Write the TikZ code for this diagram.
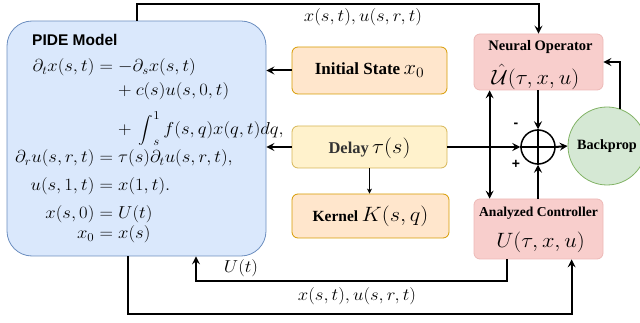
\documentclass[tikz,border=0pt]{standalone}
\usepackage{amsmath}
\usepackage{graphicx}
\usepackage{fontspec}
\usetikzlibrary{arrows.meta,calc}
\newfontfamily\labelserif{Liberation Serif}
\newfontfamily\labelsans{Liberation Sans}

% slightly widened math, as typeset by the web renderer
\newcommand{\widemath}[1]{\scalebox{1.08}[1]{#1}}
% a display integral of reduced size, centred on the math axis
\newcommand{\reducedint}{\mathop{\vcenter{\hbox{\scalebox{0.78}{$\displaystyle\int$}}}}\nolimits}

\definecolor{blueFill}{HTML}{DAE8FC}
\definecolor{blueLine}{HTML}{6C8EBF}
\definecolor{orangeFill}{HTML}{FFE6CC}
\definecolor{orangeLine}{HTML}{D79B00}
\definecolor{yellowFill}{HTML}{FFF2CC}
\definecolor{yellowLine}{HTML}{D6B656}
\definecolor{redFill}{HTML}{F8CECC}
\definecolor{redLine}{HTML}{EDB9B7}
\definecolor{greenFill}{HTML}{D5E8D4}
\definecolor{greenLine}{HTML}{82B366}
\definecolor{delayText}{HTML}{333333}

\tikzset{
  blockbox/.style={draw, line width=0.8pt, rounded corners=6pt, inner sep=0pt},
  conn/.style={line width=2pt, -{Stealth[length=8pt,width=8pt,inset=3pt]}},
  thinconn/.style={line width=0.8pt, -{Stealth[length=5pt,width=5pt,inset=1.5pt]}},
  boxtitle/.style={inner sep=0pt, font=\labelserif\bfseries\fontsize{14.5}{17}\selectfont},
  mathlabel/.style={inner sep=0pt, font=\fontsize{16.5}{19}\selectfont},
}

\begin{document}
\begin{tikzpicture}[x=1pt,y=-1pt]
\useasboundingbox (0,0) rectangle (640,323);

% ---- plant block -------------------------------------------------
\node[draw=blueLine, fill=blueFill, line width=0.8pt, rounded corners=25pt,
      minimum width=259pt, minimum height=235pt, inner sep=0pt] (pide) at (136.5,138.5) {};
\node[anchor=west, inner sep=0pt, font=\labelsans\bfseries\fontsize{15.5}{18}\selectfont]
  (pidetitle) at (32,40) {PIDE Model};
\node[anchor=north west, inner sep=0pt] (eqs) at (15,57)
 {\fontsize{17}{20.4}\selectfont\setlength{\jot}{3.6pt}\widemath{$\begin{aligned}
  \partial_t x(s,t) &= -\partial_s x(s,t)\\
  &\mathrel{\phantom{=}}\mathord{+}\: c(s)u(s,0,t)\\[6pt]
  &\mathrel{\phantom{=}}\mathord{+}\: \reducedint_s^1 f(s,q)x(q,t)dq,\\[-2pt]
  \partial_r u(s,r,t) &= \tau(s)\partial_t u(s,r,t),\\[4pt]
  u(s,1,t) &= x(1,t).\\[4pt]
  x(s,0) &= U(t)\\[-4pt]
  x_0 &= x(s)
 \end{aligned}$}};

% ---- parameter blocks --------------------------------------------
\node[blockbox, draw=orangeLine, fill=orangeFill, minimum width=155pt, minimum height=47pt]
  (init) at (369.5,70.5) {};
\node[inner sep=0pt] (inittext) at (init.center)
  {{\labelserif\bfseries\fontsize{17}{20}\selectfont Initial State} {\fontsize{21}{24}\selectfont\widemath{$x_0$}}};

\node[blockbox, draw=yellowLine, fill=yellowFill, minimum width=155pt, minimum height=42pt]
  (delay) at (369.5,147) {};
\node[inner sep=0pt] (delaytext) at ($(delay.center)+(0,1)$)
  {{\labelserif\bfseries\color{delayText}\fontsize{16.5}{20}\selectfont Delay} {\fontsize{22}{24}\selectfont\widemath{$\tau(s)$}}};

\node[blockbox, draw=orangeLine, fill=orangeFill, minimum width=157pt, minimum height=44pt]
  (kernel) at (370.5,216) {};
\node[inner sep=0pt] (kerneltext) at (kernel.center)
  {{\labelserif\bfseries\fontsize{15.5}{20}\selectfont Kernel} {\fontsize{21}{24}\selectfont\widemath{$K(s,q)$}}};

% ---- operator and controller -------------------------------------
\node[blockbox, draw=redLine, fill=redFill, minimum width=129pt, minimum height=56pt]
  (no) at (538.5,62) {};
\node[boxtitle] (notitle) at ($(no.center)+(2,-15)$) {Neural Operator};
\node[inner sep=0pt, font=\fontsize{20.5}{22}\selectfont] (noformula) at ($(no.center)+(-3,15)$)
  {\widemath{$\hat{\mathcal{U}}(\tau,x,u)$}};

\node[blockbox, draw=redLine, fill=redFill, minimum width=129pt, minimum height=60pt]
  (ac) at (538.5,229) {};
\node[boxtitle, font=\labelserif\bfseries\fontsize{13.6}{16}\selectfont] (actitle) at ($(ac.center)+(0,-16)$) {Analyzed Controller};
\node[inner sep=0pt, font=\fontsize{20.5}{22}\selectfont] (acformula) at ($(ac.center)+(2,13)$)
  {\widemath{$U(\tau,x,u)$}};

% ---- summing junction and training signal ------------------------
\node[draw, circle, line width=1.5pt, minimum size=34pt, inner sep=0pt] (sum) at (538,147) {};
\draw[line width=1.5pt] (sum.north) -- (sum.south);
\draw[line width=1.5pt] (sum.west) -- (sum.east);
\node[inner sep=0pt, font=\labelsans\bfseries\fontsize{14}{16}\selectfont] (minus) at (516,125) {-};
\node[inner sep=0pt, font=\labelsans\bfseries\fontsize{14}{16}\selectfont] (plus) at (516,164) {+};

\node[draw=greenLine, fill=greenFill, circle, line width=0.8pt, minimum size=78pt, inner sep=0pt]
  (bp) at (607,146) {};
\node[inner sep=0pt, font=\labelserif\bfseries\fontsize{14.2}{17}\selectfont] (bptext) at (607,146) {Backprop};

% ---- connectors ---------------------------------------------------
\draw[conn] (pide.north) -- ++(0,-17) -| (no.north);
\node[mathlabel] (toplabel) at (363,17) {\widemath{$x(s,t), u(s,r,t)$}};

\draw[conn] (init.west) -- (init.west -| pide.east);
\draw[conn] (delay.west) -- (delay.west -| pide.east);
\draw[thinconn] (delay.south) -- (kernel.north -| delay.south);
\draw[conn] (delay.east) -- (sum.west);
\draw[conn] (no.south -| sum.north) -- (sum.north);
\draw[conn] (ac.north -| sum.south) -- (sum.south);
\draw[conn] (sum.east) -- (bp.west);
\draw[conn] (bp.70) |- (no.east);
\draw[conn, {Stealth[length=8pt,width=8pt,inset=3pt]}-{Stealth[length=8pt,width=8pt,inset=3pt]}]
  ($(no.south west)+(16,0)$) -- ($(ac.north west)+(16,0)$);

\draw[conn] ($(ac.south west)+(33,0)$) -- ++(0,22) -| ($(pide.south)+(59.5,0)$);
\node[mathlabel] (ulabel) at (241,268) {\widemath{$U(t)$}};

\draw[conn] ($(pide.south)+(-8.5,0)$) -- ++(0,58) -| ($(ac.south west)+(98,0)$);
\node[mathlabel] (bottomlabel) at (357,296) {\widemath{$x(s,t), u(s,r,t)$}};
\end{tikzpicture}
\end{document}
